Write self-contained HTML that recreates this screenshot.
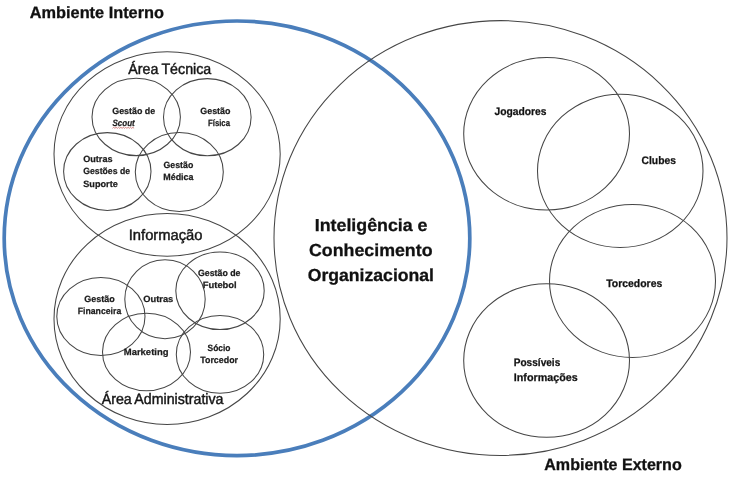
<!DOCTYPE html>
<html lang="pt"><head><meta charset="utf-8"><title>Ambiente Interno e Externo</title>
<style>
html,body{margin:0;padding:0;background:#fff;}
body{width:732px;height:477px;overflow:hidden;}
svg{display:block;will-change:transform;}
text{font-family:"Liberation Sans",sans-serif;fill:#111;stroke:#111;stroke-width:0.3px;text-rendering:geometricPrecision;}
.t{font-weight:bold;font-size:16.4px;}
.a{font-size:15.1px;fill:#161616;stroke:#161616;stroke-width:0.45px;word-spacing:-0.6px;}
.s{font-weight:bold;font-size:9.1px;fill:#1c1c1c;stroke:#1c1c1c;stroke-width:0.25px;}
.o{font-weight:bold;font-size:10.9px;stroke-width:0.25px;}
.c{font-weight:bold;font-size:17.4px;}
.e{fill:none;stroke:#464646;stroke-width:1.05;}
.b{fill:none;stroke:#4a7ebb;stroke-width:3.7;}
.w{fill:none;stroke:#c0504d;stroke-width:0.7;}
</style></head><body>
<svg width="732" height="477" viewBox="0 0 732 477">
<rect width="732" height="477" fill="#fff"/>
<ellipse class="b" cx="237.0" cy="238.3" rx="232.8" ry="217.3"/>
<ellipse class="e" cx="500.5" cy="238.0" rx="226.5" ry="217.4"/>
<ellipse class="e" cx="167.1" cy="154.0" rx="113.1" ry="102.2"/>
<ellipse class="e" cx="136.2" cy="116.9" rx="44.2" ry="38.7"/>
<ellipse class="e" cx="207.3" cy="117.2" rx="43.8" ry="38.6"/>
<ellipse class="e" cx="107.3" cy="171.5" rx="43.7" ry="38.9"/>
<ellipse class="e" cx="179.3" cy="172.0" rx="44.0" ry="39.5"/>
<ellipse class="e" cx="167.1" cy="318.9" rx="113.1" ry="105.5"/>
<ellipse class="e" cx="100.9" cy="316.5" rx="44.1" ry="39.0"/>
<ellipse class="e" cx="165.0" cy="299.2" rx="40.2" ry="39.5"/>
<ellipse class="e" cx="220.0" cy="290.8" rx="44.2" ry="38.8"/>
<ellipse class="e" cx="146.5" cy="352.0" rx="44.0" ry="38.8"/>
<ellipse class="e" cx="220.0" cy="354.4" rx="43.7" ry="38.9"/>
<ellipse class="e" cx="546.6" cy="133.75" rx="82.9" ry="76.25"/>
<ellipse class="e" cx="620.25" cy="170.9" rx="82.75" ry="76.6"/>
<ellipse class="e" cx="632.5" cy="281.0" rx="83.0" ry="76.5"/>
<ellipse class="e" cx="546.6" cy="360.5" rx="82.9" ry="76.8"/>
<path class="w" d="M112.5 128.3 l1.2 -1 l1.2 1 l1.2 -1 l1.2 1 l1.2 -1 l1.2 1 l1.2 -1 l1.2 1 l1.2 -1 l1.2 1 l1.2 -1 l1.2 1 l1.2 -1 l1.2 1 l1.2 -1 l1.2 1 l1.2 -1 l1.2 1"/>
<text id="t0" class="t" x="29.75" y="18.30" textLength="134.25" lengthAdjust="spacingAndGlyphs">Ambiente Interno</text>
<text id="t1" class="t" x="544.25" y="470.00" textLength="137.50" lengthAdjust="spacingAndGlyphs">Ambiente Externo</text>
<text id="t2" class="a" x="128.25" y="74.00" textLength="83.00" lengthAdjust="spacingAndGlyphs">Área Técnica</text>
<text id="t3" class="a" x="128.75" y="239.90" textLength="73.75" lengthAdjust="spacingAndGlyphs">Informação</text>
<text id="t4" class="a" x="101.75" y="404.00" textLength="121.75" lengthAdjust="spacingAndGlyphs">Área Administrativa</text>
<text id="t5" class="c" x="314.75" y="230.75" textLength="112.75" lengthAdjust="spacingAndGlyphs">Inteligência e</text>
<text id="t6" class="c" x="309.00" y="255.75" textLength="123.50" lengthAdjust="spacingAndGlyphs">Conhecimento</text>
<text id="t7" class="c" x="307.75" y="280.75" textLength="126.25" lengthAdjust="spacingAndGlyphs">Organizacional</text>
<text id="t8" class="s" x="112.25" y="114.30" textLength="43.00" lengthAdjust="spacingAndGlyphs">Gestão de</text>
<text id="t9" class="s" x="112.50" y="126.30" textLength="22.25" lengthAdjust="spacingAndGlyphs" font-style="italic">Scout</text>
<text id="t10" class="s" x="200.25" y="114.40" textLength="30.25" lengthAdjust="spacingAndGlyphs">Gestão</text>
<text id="t11" class="s" x="208.00" y="126.00" textLength="22.00" lengthAdjust="spacingAndGlyphs">Física</text>
<text id="t12" class="s" x="83.25" y="162.00" textLength="29.25" lengthAdjust="spacingAndGlyphs">Outras</text>
<text id="t13" class="s" x="83.25" y="174.00" textLength="46.75" lengthAdjust="spacingAndGlyphs">Gestões de</text>
<text id="t14" class="s" x="83.25" y="186.80" textLength="34.50" lengthAdjust="spacingAndGlyphs">Suporte</text>
<text id="t15" class="s" x="163.50" y="168.30" textLength="29.75" lengthAdjust="spacingAndGlyphs">Gestão</text>
<text id="t16" class="s" x="163.25" y="180.40" textLength="30.25" lengthAdjust="spacingAndGlyphs">Médica</text>
<text id="t17" class="s" x="84.25" y="301.50" textLength="30.50" lengthAdjust="spacingAndGlyphs">Gestão</text>
<text id="t18" class="s" x="77.75" y="314.00" textLength="43.50" lengthAdjust="spacingAndGlyphs">Financeira</text>
<text id="t19" class="s" x="143.25" y="301.50" textLength="30.00" lengthAdjust="spacingAndGlyphs">Outras</text>
<text id="t20" class="s" x="198.00" y="276.40" textLength="42.50" lengthAdjust="spacingAndGlyphs">Gestão de</text>
<text id="t21" class="s" x="202.75" y="288.10" textLength="34.00" lengthAdjust="spacingAndGlyphs">Futebol</text>
<text id="t22" class="s" x="123.75" y="355.00" textLength="44.75" lengthAdjust="spacingAndGlyphs">Marketing</text>
<text id="t23" class="s" x="207.50" y="351.00" textLength="23.00" lengthAdjust="spacingAndGlyphs">Sócio</text>
<text id="t24" class="s" x="200.25" y="363.40" textLength="37.75" lengthAdjust="spacingAndGlyphs">Torcedor</text>
<text id="t25" class="o" x="494.50" y="115.00" textLength="52.00" lengthAdjust="spacingAndGlyphs">Jogadores</text>
<text id="t26" class="o" x="641.50" y="164.25" textLength="34.50" lengthAdjust="spacingAndGlyphs">Clubes</text>
<text id="t27" class="o" x="606.25" y="286.75" textLength="56.00" lengthAdjust="spacingAndGlyphs">Torcedores</text>
<text id="t28" class="o" x="513.75" y="366.25" textLength="46.50" lengthAdjust="spacingAndGlyphs">Possíveis</text>
<text id="t29" class="o" x="513.75" y="380.75" textLength="64.00" lengthAdjust="spacingAndGlyphs">Informações</text>
</svg>
</body></html>
